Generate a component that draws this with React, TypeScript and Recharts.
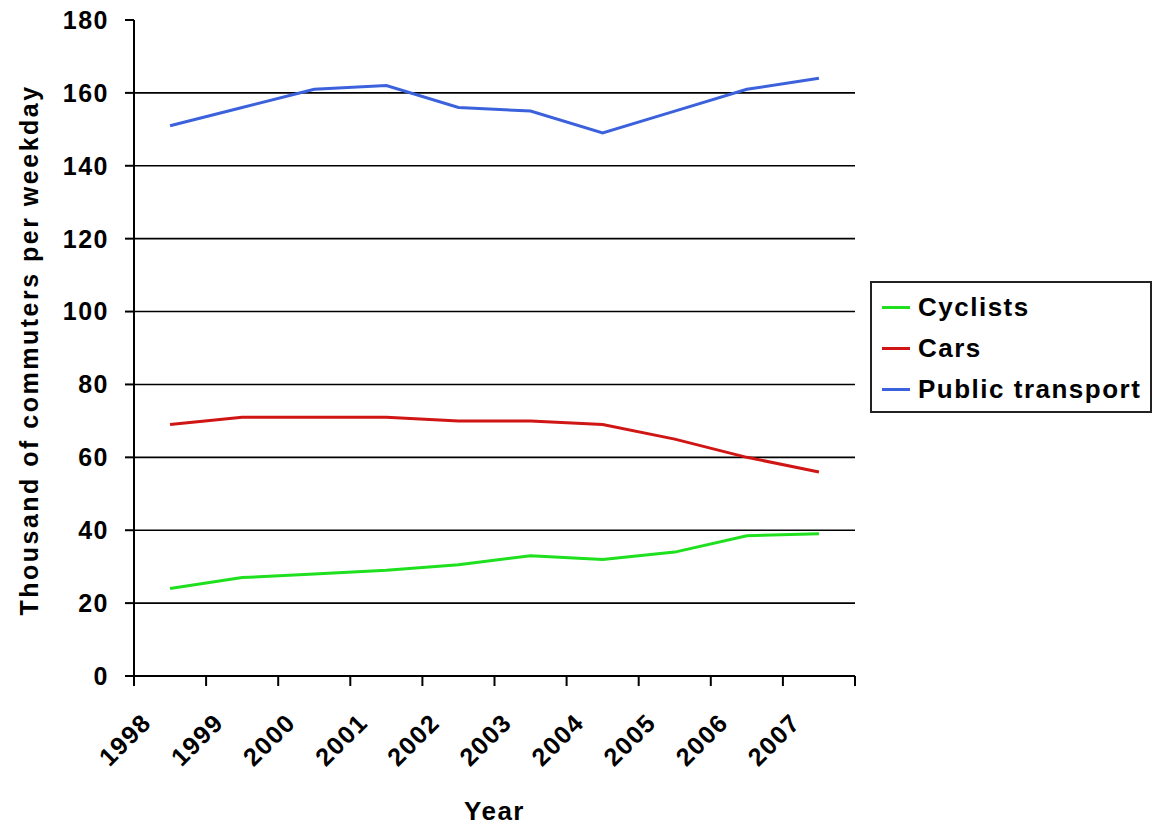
import { LineChart, Line, XAxis, YAxis, CartesianGrid, Legend } from "recharts";

const years = ["1998", "1999", "2000", "2001", "2002", "2003", "2004", "2005", "2006", "2007"];
const cyclists = [24, 27, 28, 29, 30.5, 33, 32, 34, 38.5, 39];
const cars = [69, 71, 71, 71, 70, 70, 69, 65, 60, 56];
const publicTransport = [151, 156, 161, 162, 156, 155, 149, 155, 161, 164];
const seriesNames = ["Cyclists", "Cars", "Public transport"];

const yTicks = [0, 20, 40, 60, 80, 100, 120, 140, 160, 180];
const gridValues = [20, 40, 60, 80, 100, 120, 140, 160];
// tick marks sit on the category boundaries, points in the middle
const boundaries = [0, 1, 2, 3, 4, 5, 6, 7, 8, 9, 10];

const data = years.map((year, i) => ({
    pos: i + 0.5,
    year,
    cyclists: cyclists[i],
    cars: cars[i],
    publicTransport: publicTransport[i],
}));

const FONT = '"Liberation Sans", Arial, sans-serif';
const textStyle = { fontFamily: FONT, fontWeight: 700, letterSpacing: 1.5 };

function YearTick(props: any) {
    const { x, y, payload } = props;
    const label = years[payload.value];
    if (!label) return null;
    const ax = x + 19;
    const ay = y + 38;
    return (
        <text x={ax} y={ay} transform={`rotate(-45, ${ax}, ${ay})`} textAnchor="end"
              fill="#000" fontSize={25} style={textStyle}>
            {label}
        </text>
    );
}

function LegendBox(props: any) {
    const items = [...(props.payload || [])].sort(
        (a: any, b: any) => seriesNames.indexOf(a.value) - seriesNames.indexOf(b.value)
    );
    return (
        <div style={{ border: "2px solid #222", width: 282, padding: "4px 0 1px 10px", background: "#fff", boxSizing: "border-box" }}>
            {items.map((p: any) => (
                <div key={p.value} style={{ display: "flex", alignItems: "center", height: 41 }}>
                    <span style={{ display: "inline-block", width: 28, height: 3, background: p.color, marginRight: 8 }} />
                    <span style={{ fontFamily: FONT, fontWeight: 700, fontSize: 26, letterSpacing: 1.5, color: "#000" }}>
                        {p.value}
                    </span>
                </div>
            ))}
        </div>
    );
}

export default function App() {
    return (
        <div style={{ position: "absolute", left: 0, top: 0, background: "#fff" }}>
            <LineChart width={1165} height={826} data={data} margin={{ top: 20, right: 310, bottom: 0, left: 0 }}>
                <CartesianGrid vertical={false} horizontalValues={gridValues} stroke="#000" strokeWidth={1.6} />
                <XAxis
                    dataKey="pos"
                    type="number"
                    domain={[0, 10]}
                    ticks={boundaries}
                    interval={0}
                    height={150}
                    tickSize={10}
                    tickMargin={0}
                    stroke="#000"
                    strokeWidth={2}
                    tick={<YearTick />}
                    label={({ viewBox }: any) => (
                        <text x={viewBox.x + viewBox.width / 2} y={820} textAnchor="middle"
                              fill="#000" fontSize={26} style={textStyle}>
                            Year
                        </text>
                    )}
                />
                <YAxis
                    domain={[0, 180]}
                    ticks={yTicks}
                    interval={0}
                    width={134}
                    tickSize={9}
                    tickMargin={16}
                    stroke="#000"
                    strokeWidth={2}
                    tick={{ fill: "#000", fontSize: 25, ...textStyle }}
                    label={({ viewBox }: any) => {
                        const cx = 38;
                        const cy = viewBox.y + viewBox.height / 2 + 2;
                        return (
                            <text x={cx} y={cy} transform={`rotate(-90, ${cx}, ${cy})`} textAnchor="middle"
                                  fill="#000" fontSize={25} style={{ ...textStyle, letterSpacing: 2.5 }}>
                                Thousand of commuters per weekday
                            </text>
                        );
                    }}
                />
                <Legend
                    layout="vertical"
                    align="center"
                    verticalAlign="middle"
                    content={<LegendBox />}
                    wrapperStyle={{ left: 870, top: 281, width: 282 }}
                />
                <Line dataKey="cyclists" name="Cyclists" stroke="#1ee01e" strokeWidth={3} dot={false} isAnimationActive={false} />
                <Line dataKey="cars" name="Cars" stroke="#d01515" strokeWidth={3} dot={false} isAnimationActive={false} />
                <Line dataKey="publicTransport" name="Public transport" stroke="#3b62dc" strokeWidth={3} dot={false} isAnimationActive={false} />
            </LineChart>
        </div>
    );
}
